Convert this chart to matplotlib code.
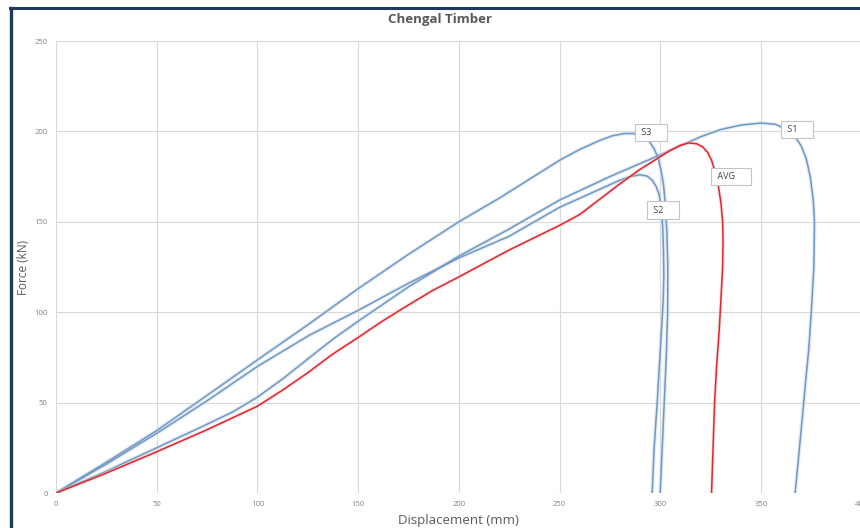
import matplotlib
matplotlib.use("Agg")
import matplotlib.pyplot as plt
from matplotlib.lines import Line2D

plt.rcParams['font.family'] = ['Open Sans', 'DejaVu Sans']

# displacement (mm) / force (kN)
s1_x = [0, 25, 50, 75, 88, 100, 113, 126, 138, 150, 175, 200, 225, 250, 275, 300, 310, 320, 330, 340, 350, 357, 363, 367, 370, 372.5, 374.5, 376, 376.6, 376.3, 375, 373.8, 372.5, 370, 367]
s1_y = [0, 12, 25, 38, 45, 53, 63.5, 75, 85.5, 95, 114, 131, 146, 162, 175, 187, 192, 197, 201, 203.5, 204.6, 204, 201, 197, 192, 185, 175, 162, 150, 125, 100, 80, 65, 35, 0]

s2_x = [0, 25, 50, 75, 100, 126, 150, 175, 200, 225, 250, 270, 280, 285, 290, 293.5, 296, 298, 299.5, 300.5, 301.2, 301.6, 301.8, 301.5, 300, 298.5, 297, 296]
s2_y = [0, 16, 33, 51, 70, 87.4, 101, 116, 130, 142, 158, 168, 173, 175, 176, 175.3, 173, 169.5, 165, 158, 148, 135, 120, 106.7, 78, 50, 25, 0]

s3_x = [0, 25, 50, 75, 100, 125, 150, 175, 200, 210, 220, 230, 240, 250, 260, 270, 276, 282, 287, 291, 294.5, 297, 299, 300.5, 301.7, 302.5, 303.3, 303.8, 303.7, 303, 302, 301, 300]
s3_y = [0, 17, 34.5, 54, 73.6, 93, 113, 132, 150, 156.5, 163, 170, 177, 184, 190, 195, 197.5, 198.8, 198.8, 197.5, 194.5, 190.5, 185, 178, 170, 160, 145, 125, 100, 75, 50, 25, 0]

avg_x = [0, 25, 50, 75, 100, 112, 125, 137, 150, 162, 175, 187, 200, 225, 250, 260, 270, 280, 290, 300, 305, 310, 314, 318, 321, 323.5, 325.5, 327.5, 329, 330.2, 331, 331.2, 331, 330.3, 329.3, 328, 327, 325.5]
avg_y = [0, 11, 22.8, 35, 48, 56.5, 66.5, 76.5, 86, 95, 104, 112, 119.5, 134.4, 148, 154, 162.5, 171, 179, 186, 189.5, 192.3, 193.6, 193.2, 191.5, 188.5, 184, 177, 169, 160, 150, 140, 125, 110, 90, 70, 50, 0]

labels = ["S1", "S2", "S3", "AVG"]
label_pos = [(368, 201), (301.5, 156.5), (295.5, 199.5), (335, 175)]

x_ticks = [0, 50, 100, 150, 200, 250, 300, 350, 400]
y_ticks = [0, 50, 100, 150, 200, 250]

fig = plt.figure(figsize=(8.6, 5.28), dpi=100)
ax = fig.add_axes([56 / 860, 1 - 493 / 528, 805.6 / 860, 452 / 528])

blue = '#7098c2'
for xs, ys in [(s1_x, s1_y), (s2_x, s2_y), (s3_x, s3_y)]:
    ax.plot(xs, ys, color='#cfe0f1', lw=2.8, alpha=0.6, solid_joinstyle='round', zorder=2)
    ax.plot(xs, ys, color=blue, lw=1.1, solid_joinstyle='round', zorder=3)
ax.plot(avg_x, avg_y, color='#f5c0c0', lw=2.4, alpha=0.5, solid_joinstyle='round', zorder=3)
ax.plot(avg_x, avg_y, color='#e2262d', lw=1.1, solid_joinstyle='round', zorder=4)

for name, (lx, ly) in zip(labels, label_pos):
    ax.text(lx, ly, " " + name + "     ", fontsize=6.5, color='#404040', ha='center', va='center',
            bbox=dict(boxstyle='square,pad=0.45', fc='white', ec='#c4c4c4', lw=0.8), zorder=5)

ax.set_xlim(0, 400)
ax.set_ylim(0, 250)
ax.set_xticks(x_ticks)
ax.set_yticks(y_ticks)
ax.tick_params(length=0, labelsize=5.5, labelcolor='#808080', pad=6)
ax.grid(True, color='#d9d9d9', lw=0.8)
ax.set_axisbelow(True)
for sp in ax.spines.values():
    sp.set_visible(False)

ax.set_xlabel("Displacement (mm)", fontsize=9.5, color='#595959', labelpad=4)
ax.set_ylabel("Force (kN)", fontsize=8.5, color='#595959', labelpad=3)
fig.text(440 / 860, 1 - 20 / 528, "Chengal Timber", fontsize=9.5, fontweight='bold',
         color='#595959', ha='center', va='center')

# dark frame edges on the left and top
fig.add_artist(Line2D([10.5 / 860, 10.5 / 860], [0, 1 - 8 / 528], color='#1f3a5c', lw=2.4))
fig.add_artist(Line2D([9.5 / 860, 1], [1 - 8 / 528, 1 - 8 / 528], color='#1f3a5c', lw=2.2))

fig.savefig("out.png", dpi=100)
